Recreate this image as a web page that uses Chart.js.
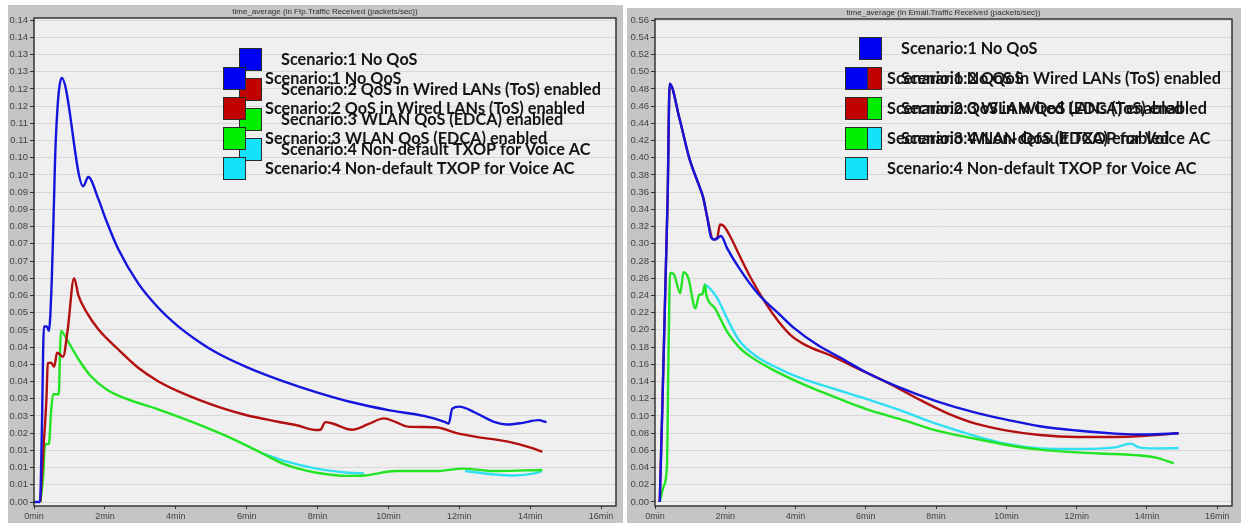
<!DOCTYPE html>
<html>
<head>
<meta charset="utf-8">
<title>time_average - Traffic Received</title>
<script src="https://cdn.jsdelivr.net/npm/chart.js@4.4.1/dist/chart.umd.min.js"></script>
<style>
  body { margin: 0; background: #fff; width: 1241px; height: 523px; overflow: hidden; position: relative; }
  canvas { position: absolute; }
  #ftpChart { left: 8px; top: 5px; }
  #emailChart { left: 627px; top: 8px; }
</style>
</head>
<body>
<canvas id="ftpChart" width="615" height="518"></canvas>
<canvas id="emailChart" width="614" height="515"></canvas>
<script>
// scenario names as shown in the legend (typo in scenario 3 kept)
const scenarioNames = [
    'Scenario:1 No QoS',
    'Scenario:2 QoS in Wired LANs (ToS) enabled',
    'Secnario:3 WLAN QoS (EDCA) enabled',
    'Scenario:4 Non-default TXOP for Voice AC'
];
const swatchColors = ['#0000f2', '#c10000', '#00ee00', '#14e2fa'];
const lineColors = ['#1414dc', '#b30f0f', '#22e422', '#30dff2'];

// x axis, minutes
const timeTicks = [0, 2, 4, 6, 8, 10, 12, 14, 16];

// y axis labels, bottom to top
const ftpTickLabels = ['0.00', '0.01', '0.01', '0.01', '0.02', '0.03', '0.03', '0.04', '0.04', '0.04',
    '0.05', '0.05', '0.06', '0.06', '0.07', '0.07', '0.08', '0.09', '0.09', '0.10', '0.10',
    '0.11', '0.11', '0.12', '0.12', '0.13', '0.13', '0.14', '0.14'];
const emailTickLabels = ['0.00', '0.02', '0.04', '0.06', '0.08', '0.10', '0.12', '0.14', '0.16', '0.18',
    '0.20', '0.22', '0.24', '0.26', '0.28', '0.30', '0.32', '0.34', '0.36', '0.38', '0.40',
    '0.42', '0.44', '0.46', '0.48', '0.50', '0.52', '0.54', '0.56'];

// Ftp.Traffic Received (packets/sec), [min, value]
const ftpNoQos = [[0, 0], [0.17, 0], [0.22, 0.02], [0.28, 0.051], [0.36, 0.051], [0.42, 0.0497],
    [0.5, 0.064], [0.55, 0.082], [0.61, 0.104], [0.78, 0.1232], [1.39, 0.0917], [1.53, 0.0944],
    [1.82, 0.0879], [2.03, 0.082], [2.38, 0.0734], [2.94, 0.0635], [3.5, 0.0565], [4.06, 0.0511],
    [4.62, 0.0468], [5.18, 0.0432], [6.0, 0.0392], [7.0, 0.0352], [8.0, 0.0318], [9.0, 0.0289],
    [10.0, 0.0267], [11.0, 0.025], [11.6, 0.0232], [11.7, 0.0228], [11.8, 0.0271], [12.0, 0.0277],
    [12.44, 0.026], [13.0, 0.0232], [13.34, 0.0225], [13.79, 0.023], [14.23, 0.0238], [14.46, 0.0232]];
const ftpWiredTos = [[0.18, 0], [0.26, 0.0143], [0.35, 0.0298], [0.39, 0.0403], [0.48, 0.0405],
    [0.57, 0.0393], [0.65, 0.0434], [0.82, 0.0422], [0.95, 0.05], [1.13, 0.065], [1.26, 0.0598],
    [1.49, 0.055], [1.82, 0.0501], [2.38, 0.0443], [2.94, 0.039], [3.5, 0.0351], [4.06, 0.0322],
    [4.62, 0.0298], [5.18, 0.0277], [6.0, 0.0252], [6.85, 0.0234], [7.41, 0.0223], [7.97, 0.0209],
    [8.08, 0.021], [8.22, 0.0232], [8.42, 0.0228], [8.98, 0.021], [9.43, 0.0226], [9.87, 0.0243],
    [10.21, 0.0232], [10.54, 0.0219], [11.33, 0.0217], [11.9, 0.0201], [12.44, 0.019],
    [13.34, 0.0176], [14.01, 0.0158], [14.34, 0.0146]];
const ftpWlanEdca = [[0.18, 0], [0.26, 0.0076], [0.31, 0.0168], [0.42, 0.0168], [0.48, 0.026],
    [0.54, 0.0313], [0.7, 0.0313], [0.73, 0.042], [0.76, 0.0497], [0.93, 0.0472],
    [1.26, 0.0414], [1.6, 0.0366], [2.05, 0.0327], [2.6, 0.03], [3.5, 0.0269], [4.62, 0.0226],
    [5.74, 0.0177], [6.41, 0.0143], [7.08, 0.0109], [7.97, 0.0085], [8.87, 0.0076], [9.31, 0.0077],
    [10.21, 0.009], [11.33, 0.009], [12.11, 0.0097], [13.0, 0.009], [14.34, 0.0093]];
const ftpTxop = [[6.4, 0.0143], [7.08, 0.0119], [7.97, 0.0097], [8.87, 0.0085], [9.31, 0.0083],
    [10.5, null],
    [12.16, 0.009], [13.0, 0.008], [13.56, 0.0077], [14.12, 0.0083], [14.34, 0.009]];

// Email.Traffic Received (packets/sec), [min, value]
const emailNoQos = [[0.135, 0], [0.36, 0.354], [0.417, 0.486], [0.7, 0.445], [0.98, 0.399],
    [1.26, 0.367], [1.37, 0.354], [1.49, 0.33], [1.6, 0.307], [1.71, 0.305], [1.88, 0.309],
    [2.05, 0.295], [2.39, 0.272], [2.95, 0.241], [3.52, 0.219], [3.97, 0.2017], [4.64, 0.182],
    [5.32, 0.1667], [5.99, 0.151], [6.9, 0.134], [8.02, 0.117], [9.15, 0.1035], [10.02, 0.0955],
    [10.95, 0.088], [12.0, 0.083], [13.09, 0.0795], [14.02, 0.0785], [14.9, 0.0798]];
const emailWiredTos = [[0.135, 0], [0.36, 0.354], [0.417, 0.486], [0.7, 0.445], [0.98, 0.399],
    [1.26, 0.367], [1.37, 0.354], [1.49, 0.33], [1.66, 0.305], [1.77, 0.307], [1.85, 0.3225],
    [1.96, 0.3205], [2.16, 0.307], [2.39, 0.2875], [2.73, 0.26], [3.18, 0.229], [3.52, 0.2095],
    [3.86, 0.194], [4.3, 0.182], [4.98, 0.1706], [5.77, 0.155], [6.67, 0.1375], [7.57, 0.118],
    [8.36, 0.1024], [9.15, 0.0907], [10.02, 0.083], [10.95, 0.0779], [12.0, 0.0756],
    [13.09, 0.0756], [14.02, 0.0771], [14.9, 0.0798]];
const emailWlanEdca = [[0.135, 0], [0.25, 0.0187], [0.34, 0.042], [0.38, 0.159], [0.43, 0.266],
    [0.53, 0.265], [0.72, 0.2427], [0.81, 0.267], [0.95, 0.26], [1.15, 0.225], [1.26, 0.2407],
    [1.35, 0.2415], [1.42, 0.2524], [1.46, 0.241], [1.71, 0.225], [2.05, 0.198], [2.39, 0.18],
    [2.73, 0.1686], [3.29, 0.155], [3.97, 0.1414], [4.87, 0.1258], [5.99, 0.1083], [7.12, 0.0946],
    [8.02, 0.083], [9.15, 0.0732], [10.02, 0.0662], [10.95, 0.0608], [12.0, 0.0576],
    [13.09, 0.0557], [13.66, 0.0545], [14.22, 0.0518], [14.76, 0.0452]];
const emailTxop = [[1.4, 0.253], [1.54, 0.249], [1.77, 0.237], [2.05, 0.2134], [2.39, 0.188],
    [2.84, 0.1706], [3.52, 0.155], [4.19, 0.1433], [5.09, 0.1316], [5.99, 0.12], [7.12, 0.1044],
    [8.02, 0.0907], [9.15, 0.0763], [10.02, 0.0674], [10.95, 0.0623], [12.0, 0.0615],
    [13.09, 0.0635], [13.54, 0.0678], [13.77, 0.0635], [14.22, 0.0623], [14.9, 0.0627]];

// grey panel, plot background, frame and title
const panelFrame = {
    id: 'panelFrame',
    beforeDraw(chart, args, opts) {
        const ctx = chart.ctx, a = chart.chartArea;
        ctx.save();
        ctx.fillStyle = '#c5c5c5';
        ctx.fillRect(0, 0, chart.width, chart.height);
        ctx.fillStyle = '#efefef';
        ctx.fillRect(a.left, a.top, a.right - a.left, a.bottom - a.top);
        ctx.restore();
    },
    afterDraw(chart, args, opts) {
        const ctx = chart.ctx, a = chart.chartArea;
        ctx.save();
        ctx.strokeStyle = '#2a2a2a';
        ctx.lineWidth = 1.4;
        ctx.strokeRect(a.left, a.top, a.right - a.left, a.bottom - a.top);
        ctx.fillStyle = '#2e2e2e';
        ctx.font = '8px "Liberation Sans"';
        ctx.textAlign = 'center';
        ctx.textBaseline = 'bottom';
        ctx.fillText(opts.title, (a.left + a.right) / 2, a.top - 2);
        ctx.restore();
    }
};

// two stacked copies of the scenario legend
const scenarioLegend = {
    id: 'scenarioLegend',
    afterDraw(chart, args, opts) {
        const ctx = chart.ctx;
        ctx.save();
        ctx.font = 'bold 17px Lato';
        const squeeze = opts.textWidth / ctx.measureText(scenarioNames[1]).width;
        opts.copies.forEach(pos => {
            scenarioNames.forEach((name, i) => {
                const top = pos.y + i * 30;
                ctx.fillStyle = swatchColors[i];
                ctx.fillRect(pos.x, top, 23, 23);
                ctx.strokeStyle = '#2b2b2b';
                ctx.lineWidth = 1;
                ctx.strokeRect(pos.x + 0.5, top + 0.5, 22, 22);
                ctx.save();
                ctx.translate(pos.x + 42, top + 12);
                ctx.scale(squeeze, 1);
                ctx.fillStyle = '#141414';
                ctx.textBaseline = 'middle';
                ctx.fillText(name, 0, 0);
                ctx.restore();
            });
        });
        ctx.restore();
    }
};

function makeChart(id, cfg) {
    const ctx = document.getElementById(id).getContext('2d');
    const tickValues = cfg.tickLabels.map((_, i) => i * cfg.step);

    return new Chart(ctx, {
        type: 'line',
        data: {
            datasets: cfg.series.map((s, i) => ({
                label: scenarioNames[i],
                data: s,
                borderColor: lineColors[i],
                borderWidth: 2.4,
                pointRadius: 0,
                cubicInterpolationMode: 'monotone',
                fill: false,
                order: i + 1
            }))
        },
        options: {
            responsive: false,
            animation: false,
            layout: { padding: cfg.padding },
            plugins: {
                legend: { display: false },
                tooltip: { enabled: false },
                panelFrame: { title: cfg.title },
                scenarioLegend: { copies: cfg.legendAt, textWidth: 320 }
            },
            scales: {
                x: {
                    type: 'linear',
                    min: 0,
                    max: 16.42,
                    afterBuildTicks: axis => { axis.ticks = timeTicks.map(v => ({ value: v })); },
                    afterFit: axis => { axis.height = 17; },
                    border: { display: false },
                    grid: { drawOnChartArea: false, drawTicks: true, tickLength: 3, tickColor: '#333' },
                    ticks: {
                        maxRotation: 0,
                        padding: 2,
                        color: '#444',
                        font: { family: 'Liberation Sans', size: 9 },
                        callback: v => v + 'min'
                    }
                },
                y: {
                    type: 'linear',
                    min: cfg.yMin,
                    max: cfg.yMax,
                    afterBuildTicks: axis => { axis.ticks = tickValues.map(v => ({ value: v })); },
                    afterFit: axis => { axis.width = cfg.axisWidth; },
                    border: { display: false },
                    grid: { color: '#d8d8d8', lineWidth: 1, drawTicks: true, tickLength: 4, tickColor: '#333' },
                    ticks: {
                        padding: 2,
                        color: '#444',
                        font: { family: 'Liberation Sans', size: 9.5 },
                        callback: (v, i) => cfg.tickLabels[i]
                    }
                }
            }
        },
        plugins: [panelFrame, scenarioLegend]
    });
}

makeChart('ftpChart', {
    title: 'time_average (in Ftp.Traffic Received (packets/sec))',
    series: [ftpNoQos, ftpWiredTos, ftpWlanEdca, ftpTxop],
    tickLabels: ftpTickLabels,
    step: 0.005,
    yMin: -0.00116,
    yMax: 0.1406,
    axisWidth: 26,
    padding: { left: 0, top: 13, right: 7, bottom: 0 },
    legendAt: [{ x: 231, y: 43 }, { x: 215, y: 62 }]
});

makeChart('emailChart', {
    title: 'time_average (in Email.Traffic Received (packets/sec))',
    series: [emailNoQos, emailWiredTos, emailWlanEdca, emailTxop],
    tickLabels: emailTickLabels,
    step: 0.02,
    yMin: -0.00465,
    yMax: 0.5612,
    axisWidth: 28,
    padding: { left: 0, top: 11, right: 9, bottom: 0 },
    legendAt: [{ x: 232, y: 29 }, { x: 218, y: 59 }]
});
</script>
</body>
</html>
